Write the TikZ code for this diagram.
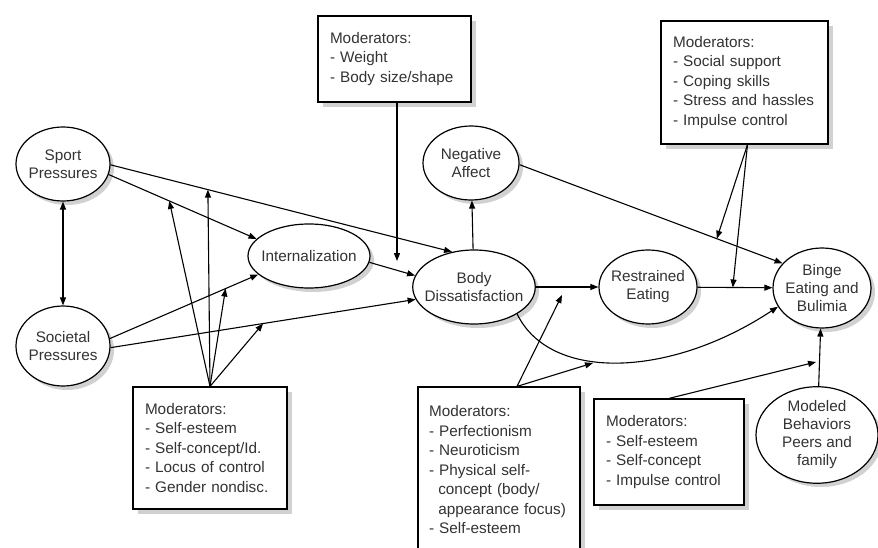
\documentclass[tikz,border=0pt]{standalone}
\usepackage{fontspec}
\setmainfont{Liberation Sans}
\usetikzlibrary{shapes.geometric,arrows.meta}

\begin{document}
\begin{tikzpicture}[x=1pt, y=-1pt, line width=1.1pt, >={Triangle[length=8pt,width=6pt]},
  var/.style={ellipse, draw, fill=white, line width=1.2pt, inner xsep=-6pt, inner ysep=0pt,
    minimum width=94pt, minimum height=74pt, align=center, text=black!80,
    font=\fontsize{15.3}{18}\selectfont},
  modbox/.style={rectangle, draw, fill=white, line width=1.2pt, inner xsep=12pt, align=left,
    text=black!80, font=\fontsize{15.3}{19.5}\selectfont},
  shadowfill/.style={fill=black!18}]
  \useasboundingbox (0,0) rectangle (878,548);
  \clip (0,0) rectangle (878,548);
  % shadows
  \foreach \x/\y/\a/\b in {63/164/47/37, 63/346/47/40, 309/256/61/32, 474/287/61/37,
      471/163/48/37, 648/287/49/37, 822/288/49/40, 817/435/61/48}
    \fill [shadowfill] (\x+4,\y+4) ellipse [x radius=\a, y radius=\b];
  \foreach \xa/\ya/\xb/\yb in {133/387/287/509, 318/16/471/102, 661/21/828/144,
      418/387/580/553, 594/399/744/505}
    \fill [shadowfill] (\xa+5,\ya+5) rectangle (\xb+5,\yb+5);
  \node [var] (sport) at (63,164) {Sport\\Pressures};
  \node [var, minimum height=80pt] (societal) at (63,346) {Societal\\Pressures};
  \node [var, minimum width=122pt, minimum height=64pt] (intern) at (309,256) {Internalization};
  \node [var, minimum width=122pt] (body) at (474,287) {Body\\Dissatisfaction};
  \node [var, minimum width=96pt] (negaff) at (471,163) {Negative\\Affect};
  \node [var, minimum width=98pt] (restr) at (648,287) {Restrained\\Eating};
  \node [var, minimum width=98pt, minimum height=80pt] (binge) at (822,288) {Binge\\Eating and\\Bulimia};
  \node [var, minimum width=122pt, minimum height=96pt] (modeled) at (817,435) {Modeled\\Behaviors\\Peers and\\family};
  \node [modbox, text width=130pt, minimum height=122pt] (m1) at (210,448) {Moderators:\\- Self-esteem\\- Self-concept/Id.\\- Locus of control\\- Gender nondisc.};
  \node [modbox, text width=129pt, minimum height=86pt] (m2) at (394.5,59) {Moderators:\\- Weight\\- Body size/shape};
  \node [modbox, text width=143pt, minimum height=123pt] (m3) at (744.5,82.5) {Moderators:\\- Social support\\- Coping skills\\- Stress and hassles\\- Impulse control};
  \node [modbox, text width=140pt, inner xsep=11pt, minimum height=166pt] (m4) at (499,470) {Moderators:\\- Perfectionism\\- Neuroticism\\- Physical self-\\\hspace*{0.61em}concept (body/\\\hspace*{0.61em}appearance focus)\\- Self-esteem};
  \node [modbox, text width=126pt, minimum height=106pt] (m5) at (669,452) {Moderators:\\- Self-esteem\\- Self-concept\\- Impulse control};
  \coordinate (wt) at (397,261);
  \coordinate (pr) at (562,295);
  \coordinate (pc) at (593,363);
  \coordinate (mb) at (816,362);
  \draw [<->] (sport) -- (societal);
  \draw [->] (sport.-13) -- coordinate[pos=.41] (si) (intern.162);
  \draw [->] (sport.-1) -- coordinate[pos=.285] (sb) (body.122);
  \draw [->] (societal.9) -- coordinate[pos=.78] (ci) (intern.200);
  \draw [->] (societal.-2) -- coordinate[pos=.5] (cb) (body.192);
  \draw [->] (intern.-6) -- (body.169);
  \draw [->] (body) -- (negaff);
  \draw [->] (body) -- (restr);
  \draw [->] (restr) -- coordinate[pos=.47] (rb) (binge);
  \draw [->] (negaff.-2) -- coordinate[pos=.75] (nb) (binge.148);
  \draw [->] (body.-32) .. controls (550,382) and (670,378) .. (binge.203);
  \draw [->] (modeled) -- (binge);
  \draw [->] (m1.north) -- (si);
  \draw [->] (m1.north) -- (sb);
  \draw [->] (m1.north) -- (ci);
  \draw [->] (m1.north) -- (cb);
  \draw [->] (m2.south -| wt) -- (wt);
  \draw [->] ([xshift=3pt]m3.south) -- (nb);
  \draw [->] ([xshift=3pt]m3.south) -- (rb);
  \draw [->] ([xshift=18pt]m4.north) -- (pr);
  \draw [->] ([xshift=18pt]m4.north) -- (pc);
  \draw [->] (m5.north) -- (mb);
\end{tikzpicture}
\end{document}
